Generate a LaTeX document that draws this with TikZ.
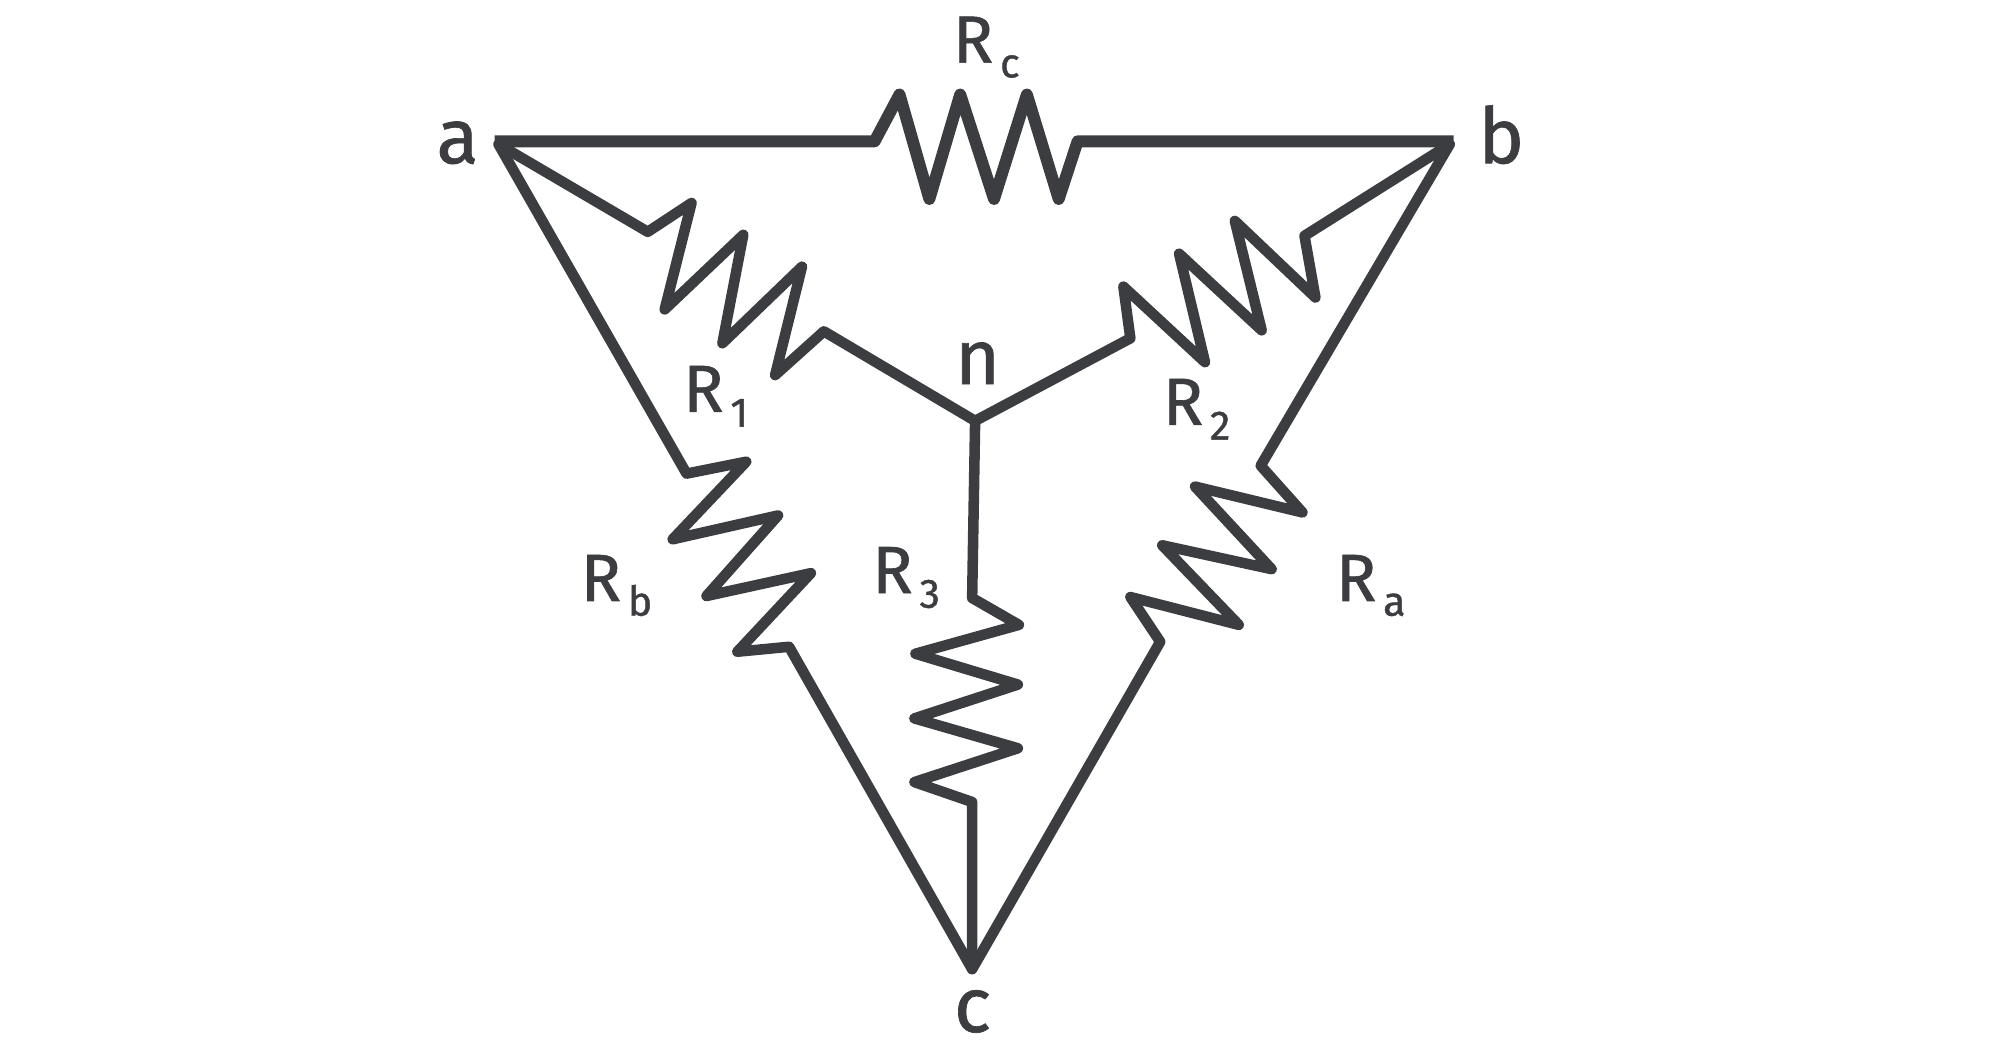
\documentclass[tikz,border=0pt]{standalone}
\usepackage{fontspec}
\setmainfont{Fira Sans}[FakeBold=0.9]
\definecolor{wirecolor}{HTML}{3C3D41}
\newcommand{\pinfont}{\fontsize{22}{24}\selectfont}
\newcommand{\resfont}{\fontsize{19}{22}\selectfont}
\newcommand{\subfont}{\fontsize{11.7}{14}\selectfont}
\newcommand{\rname}[1]{R\kern0.1em\raisebox{-0.22em}{\subfont #1}}
\tikzstyle{wire}=[draw=wirecolor, line width=3pt, line join=round, line cap=round]
\tikzstyle{topwire}=[draw=wirecolor, line width=3.4pt, line join=round]
\tikzstyle{pin}=[anchor=base west, inner sep=0pt, text=wirecolor, font=\pinfont]
\tikzstyle{res}=[anchor=base west, inner sep=0pt, text=wirecolor, font=\resfont]
\begin{document}
\begin{tikzpicture}[x=0.00995cm, y=-0.00995cm]
        \useasboundingbox (0,0) rectangle (2010,1049.3);

        \coordinate (pa) at (501,145);
        \coordinate (pb) at (1457,145);
        \coordinate (pc) at (977,974);
        \coordinate (pn) at (980,423);
        \coordinate (ta) at (497,142);
        \coordinate (tb) at (1461,142);

        % Terminals
        \node (a) [pin] at (438,164) {a};
        \node (b) [pin] at (1485,164) {b};
        \node (c) [pin] at (958,1037) {c};
        \node (n) [pin] at (959,386) {n};

        % Resistor names
        \node (Rc) [res] at (957,63) {\rname{c}};
        \node (R1) [res] at (686,414) {\rname{1}};
        \node (R2) [res] at (1168,427) {\rname{2}};
        \node (R3) [res] at (876,596) {\rname{3}};
        \node (Ra) [res] at (1342,604) {\rname{a}};
        \node (Rb) [res] at (583,604) {\rname{b}};

        % Delta
        \draw[topwire] (ta) -- (879,142) -- (904,95) -- (934,200) -- (965,95) -- (999,200) -- (1032,95) -- (1064,200) -- (1083,142) -- (tb);
        \draw[wire] (pb) -- (1267,468) -- (1309,515) -- (1201,489) -- (1278,572) -- (1168,548) -- (1245,628) -- (1136,600) -- (1166,645) -- (pc);
        \draw[wire] (pa) -- (690,476) -- (750,464) -- (676,542) -- (782,518) -- (710,599) -- (815,576) -- (741,655) -- (793,650) -- (pc);

        % Star
        \draw[wire] (pa) -- (651,233) -- (695,204) -- (668,311) -- (747,236) -- (726,345) -- (806,268) -- (779,377) -- (828,333) -- (pn);
        \draw[wire] (pb) -- (1311,237) -- (1322,299) -- (1241,222) -- (1268,332) -- (1185,255) -- (1211,364) -- (1129,288) -- (1136,340) -- (pn);
        \draw[wire] (pn) -- (977,601) -- (1024,628) -- (920,657) -- (1023,688) -- (919,722) -- (1023,752) -- (919,786) -- (977,806) -- (pc);
\end{tikzpicture}
\end{document}
